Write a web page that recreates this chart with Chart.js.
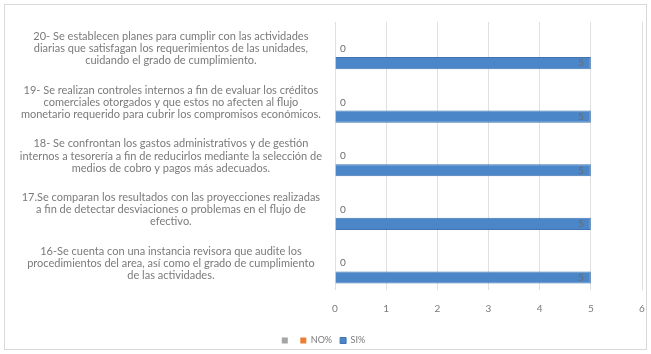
<!DOCTYPE html>
<html>
<head>
<meta charset="utf-8">
<script src="https://cdn.jsdelivr.net/npm/chart.js@4.4.1/dist/chart.umd.min.js"></script>
<style>
  html, body { margin: 0; padding: 0; background: #fff; }
  #marco { position: absolute; left: 4px; top: 4px; width: 641px; height: 344px; border: 1px solid #d9d9d9; }
  canvas { display: block; }
</style>
</head>
<body>
<div id="marco"><canvas id="grafico" width="641" height="344"></canvas></div>
<script>
// Preguntas del cuestionario (de arriba hacia abajo)
const preguntas = [
  ['20- Se establecen planes para cumplir con las actividades',
   'diarias que satisfagan los requerimientos de las unidades,',
   'cuidando el grado de cumplimiento.'],
  ['19- Se realizan controles internos a fin de evaluar los créditos',
   'comerciales otorgados y que estos no afecten al flujo',
   'monetario requerido para cubrir los compromisos económicos.'],
  ['18- Se confrontan los gastos administrativos y de gestión',
   'internos a tesorería a fin de reducirlos mediante la selección de',
   'medios de cobro y pagos más adecuados.'],
  ['17.Se comparan los resultados con las proyecciones realizadas',
   'a fin de detectar desviaciones o problemas en el flujo de',
   'efectivo.'],
  ['16-Se cuenta con una instancia revisora que audite los',
   'procedimientos del area, así como el grado de cumplimiento',
   'de las actividades.'],
];

// Series
const serieSinNombre = [null, null, null, null, null];
const porcentajeNo = [0, 0, 0, 0, 0];
const porcentajeSi = [5, 5, 5, 5, 5];

// Escala horizontal
const escalaMin = 0;
const escalaMax = 6;
const pasoEscala = 1;

// Dibuja el valor de cada barra (0 fuera del extremo, 5 dentro del extremo)
const etiquetasValor = {
  id: 'etiquetasValor',
  afterDatasetsDraw(chart) {
    const ctx = chart.ctx;
    ctx.save();
    ctx.font = '10px Lato';
    ctx.fillStyle = '#6b6b6b';
    ctx.textBaseline = 'middle';
    chart.data.datasets.forEach((ds, i) => {
      if (!ds.posicionValor) return;
      chart.getDatasetMeta(i).data.forEach((barra, j) => {
        const v = ds.data[j];
        if (v === null) return;
        if (ds.posicionValor === 'fuera') {
          ctx.textAlign = 'left';
          ctx.fillText(String(v), barra.x + 5, barra.y);
        } else {
          ctx.textAlign = 'right';
          ctx.fillText(String(v), barra.x - 7, barra.y);
        }
      });
    });
    ctx.restore();
  }
};

const ctx = document.getElementById('grafico');

new Chart(ctx, {
  type: 'bar',
  data: {
    labels: preguntas,
    datasets: [
      {
        label: '',
        data: serieSinNombre,
        backgroundColor: '#a5a5a5',
      },
      {
        label: 'NO%',
        data: porcentajeNo,
        backgroundColor: '#ed7d31',
        borderWidth: 0,
        posicionValor: 'fuera',
      },
      {
        label: 'SI%',
        data: porcentajeSi,
        backgroundColor: '#4a86c8',
        borderColor: '#3f74b0',
        borderWidth: 1,
        posicionValor: 'dentro',
      },
    ],
  },
  options: {
    indexAxis: 'y',
    responsive: false,
    animation: false,
    categoryPercentage: 0.8,
    barPercentage: 0.85,
    layout: {
      padding: { top: 17, right: 4, left: 0, bottom: -6 },
    },
    scales: {
      x: {
        min: escalaMin,
        max: escalaMax,
        grid: {
          color: '#e0e0e0',
          drawTicks: false,
        },
        border: { display: false },
        ticks: {
          stepSize: pasoEscala,
          color: '#7a7a7a',
          padding: 13,
          font: { family: 'Lato', size: 10 },
        },
        afterFit(scale) {
          scale.paddingLeft = 0;
          scale.paddingRight = 0;
        },
      },
      y: {
        grid: { display: false },
        border: { display: false },
        ticks: {
          color: '#7a7a7a',
          padding: 5,
          crossAlign: 'center',
          font: { family: 'Lato', size: 11, lineHeight: 1.1 },
        },
        afterFit(scale) {
          scale.width = 330;
          scale.paddingTop = 0;
          scale.paddingBottom = 0;
        },
      },
    },
    plugins: {
      legend: {
        position: 'bottom',
        labels: {
          color: '#7a7a7a',
          boxWidth: 6,
          boxHeight: 6,
          padding: 8,
          font: { family: 'Lato', size: 9 },
        },
      },
      tooltip: { enabled: false },
    },
  },
  plugins: [etiquetasValor],
});
</script>
</body>
</html>
